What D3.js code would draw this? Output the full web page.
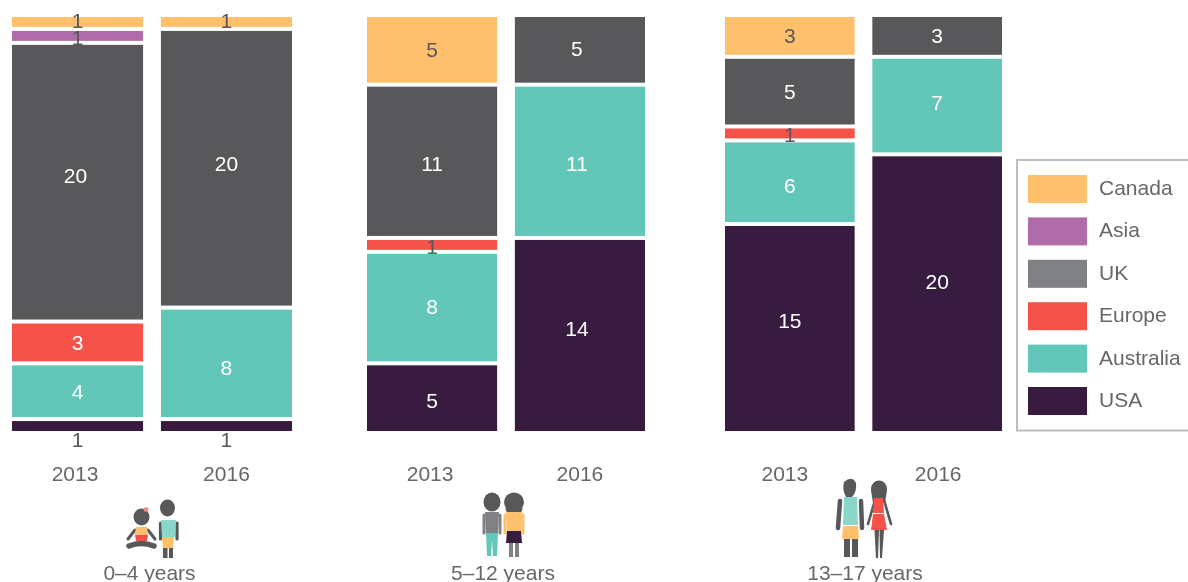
<!DOCTYPE html>
<html><head><meta charset="utf-8">
<script src="https://cdn.jsdelivr.net/npm/d3@7/dist/d3.min.js"></script>
<style>html,body{margin:0;padding:0;background:#fff;overflow:hidden}svg{display:block;filter:blur(0.35px)}text{font-family:"Liberation Sans",Arial,sans-serif}</style>
</head><body><svg id="c" width="1188" height="582"></svg>
<script>
const regions = ["Canada","Asia","UK","Europe","Australia","USA"];
const groups = ["0–4 years","5–12 years","13–17 years"];
const years = ["2013","2016"];
const canada = [1,1, 5,0, 3,0];
const asia = [1,0, 0,0, 0,0];
const uk = [20,20, 11,5, 5,3];
const europe = [3,0, 1,0, 1,0];
const australia = [4,8, 8,11, 6,7];
const usa = [1,1, 5,14, 15,20];
const seriesValues = [canada,asia,uk,europe,australia,usa];

const colours = {Canada:"#FFC06E",Asia:"#AF6CA8",UK:"#58585A",Europe:"#F5524A",Australia:"#62C7B8",USA:"#381C40"};
const legendColours = {...colours,UK:"#808184"};
const textCol = "#666769";
const svg = d3.select("#c");
const GAP = 4;
const y = d3.scaleLinear().domain([0,30]).range([431+GAP,17]);
const groupRanges = [[12,292],[367,645],[725,1002]];
const xs = groupRanges.map(r=>d3.scaleBand().domain(years).range(r).paddingInner(0.12).paddingOuter(0));
const yearOffset = [[-2.5,0],[-2,0],[-5,1]];
// hand-placed label shifts seen in the reference, per bar, per region
const labelDy = [
  {UK:-7},{UK:-5,Australia:4},
  {UK:2,Australia:-1,USA:2},{UK:-1,Australia:2,USA:-7},
  {Australia:3,USA:-8},{Australia:-3,USA:-12}
];
const labelDx = [{UK:-2},{},{},{UK:-3,Australia:-3,USA:-3},{},{}];

groups.forEach((g,gi)=>{
  const x = xs[gi];
  years.forEach((yr,yi)=>{
    const idx = gi*2+yi;
    let top = 30;
    const cx = x(yr)+x.bandwidth()/2;
    regions.forEach((r,ri)=>{
      const v = seriesValues[ri][idx];
      if(!v) return;
      const y0 = y(top), y1 = y(top-v)-GAP;
      svg.append("rect").attr("x",x(yr)).attr("width",x.bandwidth())
        .attr("y",y0).attr("height",y1-y0).attr("fill",colours[r]);
      top -= v;
      let ly = (y0+y1)/2+7.5+(labelDy[idx][r]||0), col = "#fff";
      if(v===1){ col = "#58585A"; ly = r==="USA" ? y1+16 : r==="Canada" ? y0+11 : y0+14; }
      if(r==="Canada" && v>1) col = "#58585A";
      svg.append("text").attr("x",cx+(labelDx[idx][r]||0)).attr("y",ly)
        .attr("text-anchor","middle").attr("font-size",21).attr("fill",col).text(v);
    });
    svg.append("text").attr("x",cx+yearOffset[gi][yi]).attr("y",480.5)
      .attr("text-anchor","middle").attr("font-size",21).attr("fill",textCol).text(yr);
  });
});

// group captions
const captionX = [149.5,503,865];
groups.forEach((g,i)=>svg.append("text").attr("x",captionX[i]).attr("y",580)
  .attr("text-anchor","middle").attr("font-size",21).attr("fill",textCol).text(g));

// legend
const lg = svg.append("g");
lg.append("rect").attr("x",1017).attr("y",160).attr("width",190).attr("height",270.5)
  .attr("fill","#fff").attr("stroke","#BDBDBD").attr("stroke-width",2);
const ly = d3.scalePoint().domain(regions).range([175,387]);
regions.forEach(r=>{
  lg.append("rect").attr("x",1028).attr("y",ly(r)).attr("width",59).attr("height",28).attr("fill",legendColours[r]);
  lg.append("text").attr("x",1099).attr("y",ly(r)+20).attr("font-size",21).attr("fill",textCol).text(r);
});

// pictograms (decorative)
const D="#58585A",O="#FFC06E",T="#8AD6CB",T2="#62C7B8",R="#F5524A",P="#381C40",G="#808184";
function e(cx,cy,rx,ry,f){svg.append("ellipse").attr("cx",cx).attr("cy",cy).attr("rx",rx).attr("ry",ry).attr("fill",f);}
function p(d,f){svg.append("path").attr("d",d).attr("fill",f);}
function l(d,w,c=D){svg.append("path").attr("d",d).attr("fill","none").attr("stroke",c).attr("stroke-width",w).attr("stroke-linecap","round").attr("stroke-linejoin","round");}
// seated girl & boy
e(141.5,517,8,8.5,D); e(146,509.5,2.5,2.2,"#F58A84");
l("M135,530 L128,539",3); l("M148,530 L155,539",3);
l("M129,546 Q141,541 154,546",5.5);
p("M136,527 H147 L148,535 H135Z",O); p("M135,535 H148 L147,541 H136Z",R);
e(167.5,508,7.5,8.5,D);
l("M160.5,523 V539",3.2); l("M177,523 V539",3.2);
p("M161,520 H176 L175,537 H162Z",T); p("M162,537 H174 L173,548 H163Z",O);
p("M163,548 H167.5 V558 H163Z",D); p("M169,548 H173 V558 H169Z",D);
// school kids
e(492,502,8.5,9.5,D);
l("M484,515 V533",3,G); l("M500,515 V533",3,G);
p("M485,512 H499 L498,533 H486Z",G);
p("M486,533 H498 L497,556 H493 L492,540 L491,556 H487Z",T2);
e(514,502,10,9.5,D); e(514,509,8.5,5.5,D);
l("M505,515 V533",3,O); l("M523,515 V533",3,O);
p("M506,512 H522 L521,531 H507Z",O); p("M507,531 H521 L522,543 H506Z",P);
p("M509,543 H513 V557 H509Z",G); p("M515,543 H519 V557 H515Z",G);
// teens
p("M844,482 Q852,475 856,483 Q857,492 852,497 H846 Q842,490 844,482Z",D);
l("M840,501 L838,528",4.5); l("M861,501 L862,528",4.5);
p("M844,497 H857 L858,525 H843Z",T); p("M843,526 H858 L859,539 H842Z",O);
p("M844,539 H850 V557 H844Z",D); p("M852,539 H858 V557 H852Z",D);
e(879,489,8,8.5,D); p("M871,490 H887 L885,503 H873Z",D);
l("M875,500 L868,524",2.6); l("M884,500 L891,524",2.6);
p("M874,498 H883 L884,513 H873Z",R); p("M873,514 H884 L887,530 H871Z",R);
p("M874.5,530 H879 L878,558 H876Z",D); p("M879.5,530 H884 L882,558 H880Z",D);
</script></body></html>
